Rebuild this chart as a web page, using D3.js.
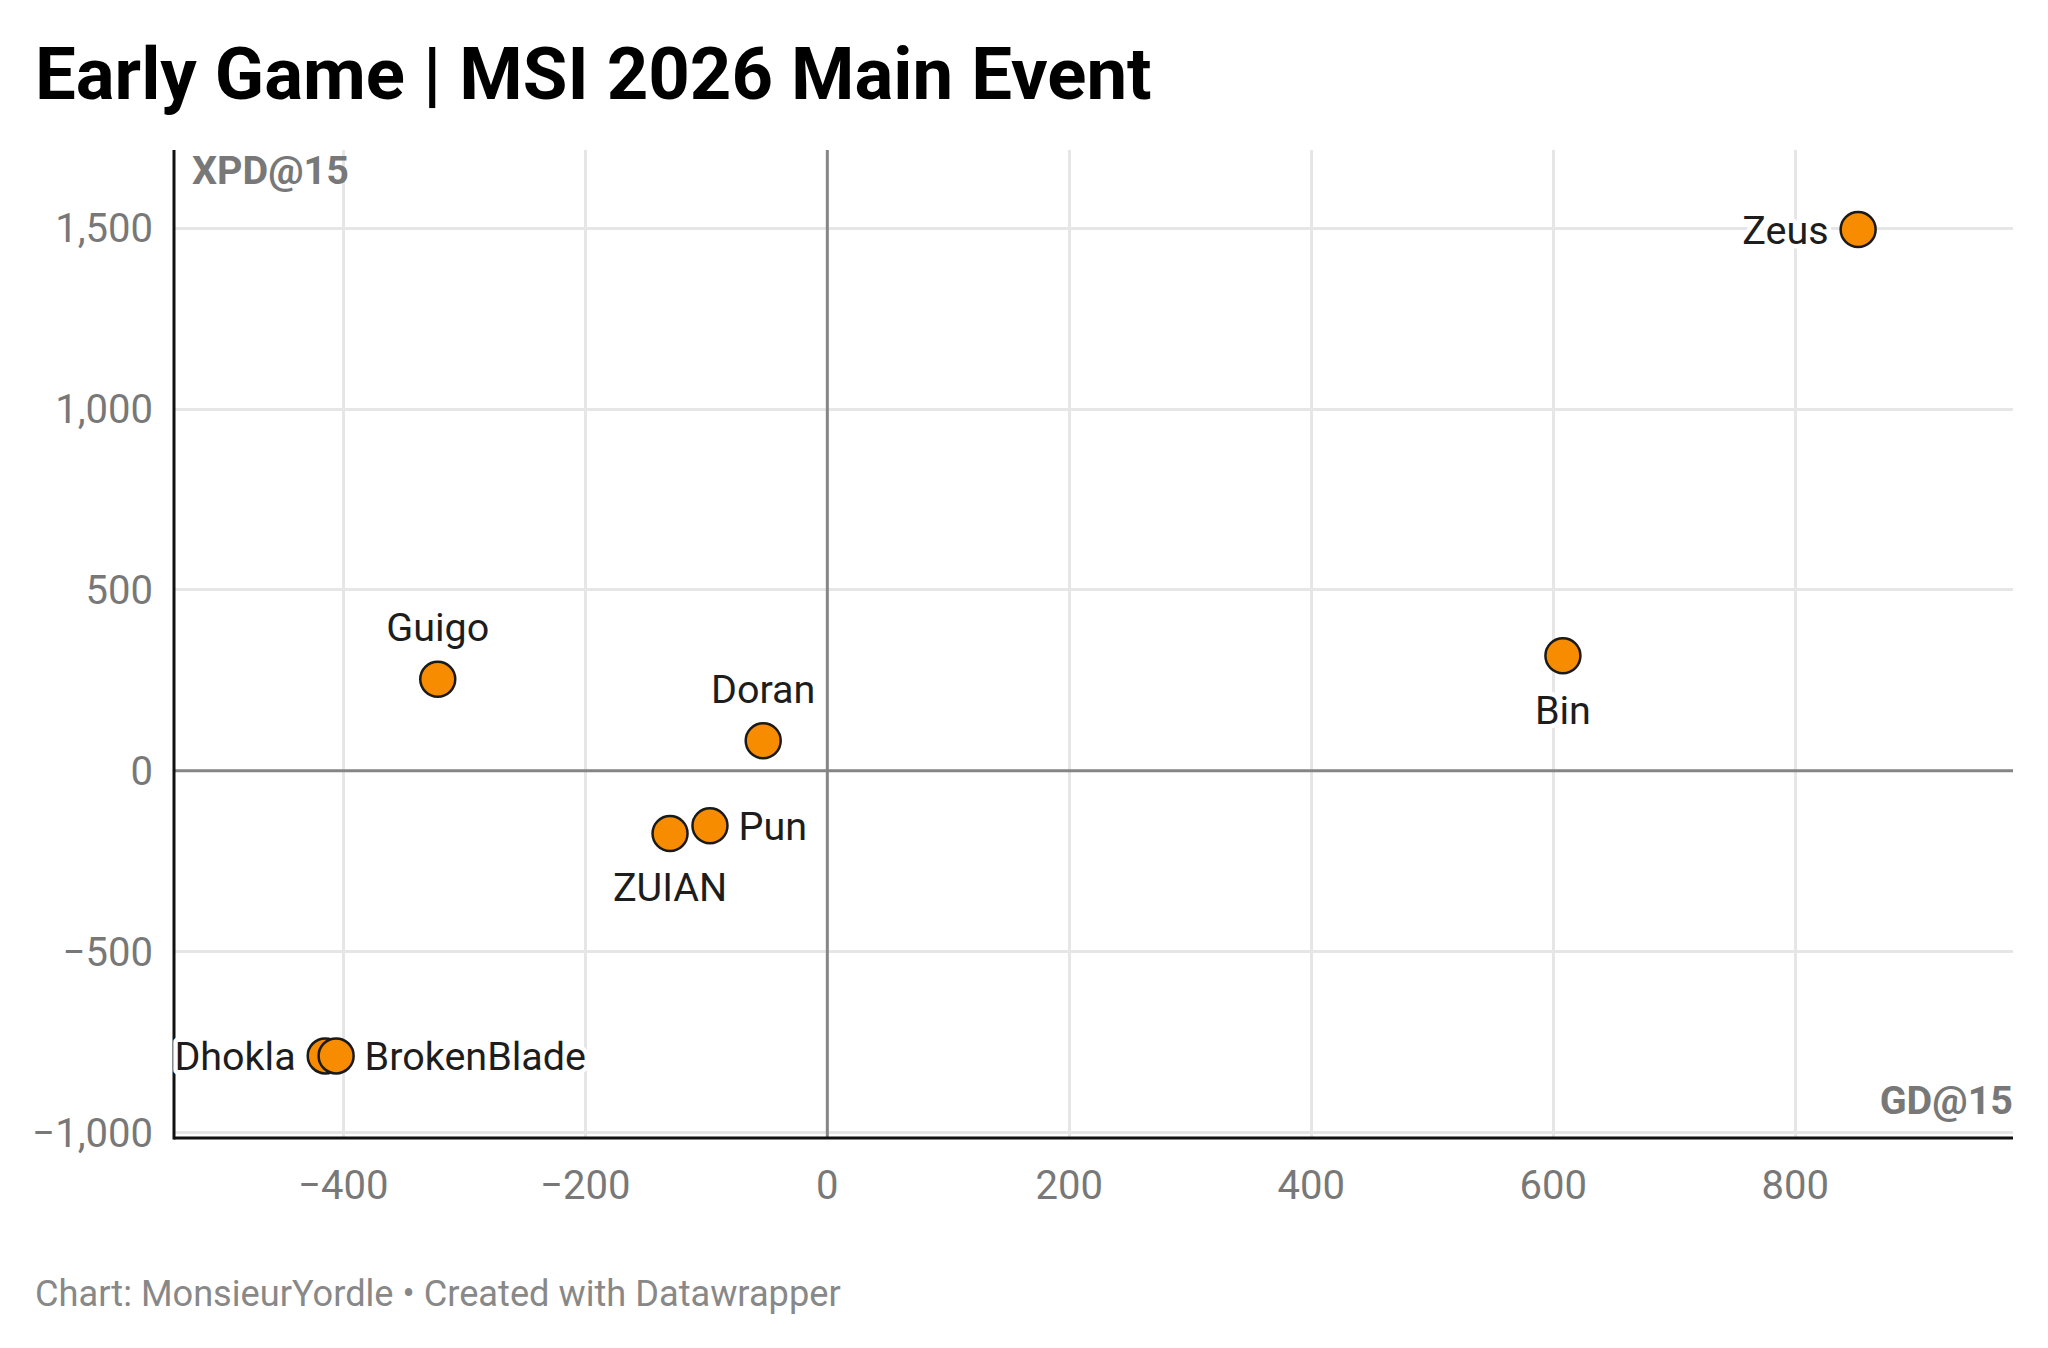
<!DOCTYPE html>
<html lang="en">
<head>
  <meta charset="UTF-8">
  <title>Early Game | MSI 2026 Main Event</title>
  <script src="https://d3js.org/d3.v7.min.js"></script>
  <style>
    body { margin: 0; padding: 0; background: #fff; }
    svg { display: block; font-family: Roboto, "Noto Sans", sans-serif; }
    .grid line { stroke: #e6e6e6; stroke-width: 3px; shape-rendering: crispEdges; }
    .tick-label { fill: #787878; font-size: 40px; }
    .axis-title { fill: #787878; font-size: 39.5px; font-weight: 700; }
    .point-label {
      fill: #1d1d1d; font-size: 39.5px;
      stroke: #fff; stroke-width: 9px; stroke-linejoin: round; paint-order: stroke;
    }
  </style>
</head>
<body>
  <div class="chart"></div>
  <script>
    // players, GD@15 and XPD@15
    const players = ["Zeus", "Bin", "Guigo", "Doran", "Pun", "ZUIAN", "Dhokla", "BrokenBlade"];
    const gd15 = [852, 608, -322, -53, -97, -130, -415, -406];
    const xpd15 = [1496, 318, 253, 83, -152, -173, -788, -788];

    const xTicks = [-400, -200, 0, 200, 400, 600, 800];
    const yTicks = [-1000, -500, 0, 500, 1000, 1500];

    // where each label sits relative to its dot
    const labelSide = {
      Zeus: "left", Bin: "bottom", Guigo: "top", Doran: "top",
      Pun: "right", ZUIAN: "bottom", Dhokla: "left", BrokenBlade: "right"
    };

    const width = 2048, height = 1348;
    const margin = {top: 150, right: 35, bottom: 210, left: 174};

    const data = players.map((p, i) => ({name: p, gd: gd15[i], xpd: xpd15[i]}));

    const svg = d3.select(".chart").append("svg")
      .attr("width", width)
      .attr("height", height);

    svg.append("rect").attr("width", width).attr("height", height).attr("fill", "#fff");

    const x = d3.scaleLinear()
      .domain([-540, 980])
      .range([margin.left, width - margin.right]);

    const y = d3.scaleLinear()
      .domain([-1015, 1716])
      .range([height - margin.bottom, margin.top]);

    const fmt = d3.format(",");

    // grid
    const grid = svg.append("g").attr("class", "grid");
    grid.selectAll(".gx").data(xTicks.filter(d => d !== 0)).join("line")
      .attr("x1", d => x(d)).attr("x2", d => x(d))
      .attr("y1", y.range()[1]).attr("y2", y.range()[0]);
    grid.selectAll(".gy").data(yTicks.filter(d => d !== 0)).join("line")
      .attr("class", "gy")
      .attr("x1", x.range()[0]).attr("x2", x.range()[1])
      .attr("y1", d => y(d)).attr("y2", d => y(d));

    // zero lines
    svg.append("line")
      .attr("x1", x(0)).attr("x2", x(0))
      .attr("y1", y.range()[1]).attr("y2", y.range()[0])
      .attr("stroke", "#858585").attr("stroke-width", 3);
    svg.append("line")
      .attr("x1", x.range()[0]).attr("x2", x.range()[1])
      .attr("y1", y(0)).attr("y2", y(0))
      .attr("stroke", "#858585").attr("stroke-width", 3);

    // axis lines
    svg.append("line")
      .attr("x1", x.range()[0]).attr("x2", x.range()[0])
      .attr("y1", y.range()[1]).attr("y2", y.range()[0] + 1.5)
      .attr("stroke", "#111").attr("stroke-width", 3);
    svg.append("line")
      .attr("x1", x.range()[0]).attr("x2", x.range()[1])
      .attr("y1", y.range()[0]).attr("y2", y.range()[0])
      .attr("stroke", "#111").attr("stroke-width", 3);

    // tick labels
    svg.append("g").selectAll("text").data(xTicks).join("text")
      .attr("class", "tick-label")
      .attr("x", d => x(d))
      .attr("y", 1199)
      .attr("text-anchor", "middle")
      .text(d => fmt(d));

    svg.append("g").selectAll("text").data(yTicks).join("text")
      .attr("class", "tick-label")
      .attr("x", 153)
      .attr("y", d => y(d) + 14)
      .attr("text-anchor", "end")
      .text(d => fmt(d));

    // axis titles
    svg.append("text").attr("class", "axis-title")
      .attr("x", 192).attr("y", 184).text("XPD@15");
    svg.append("text").attr("class", "axis-title")
      .attr("x", x.range()[1]).attr("y", 1114)
      .attr("text-anchor", "end").text("GD@15");

    // labels
    const r = 17.5;
    const labels = svg.append("g");
    data.forEach(d => {
      const side = labelSide[d.name];
      const cx = x(d.gd), cy = y(d.xpd);
      let lx = cx, ly = cy + 14, anchor = "middle";
      if (side === "left") { lx = cx - r - 12; anchor = "end"; }
      if (side === "right") { lx = cx + r + 11; anchor = "start"; }
      if (side === "top") { ly = cy - 38; }
      if (side === "bottom") { ly = cy + 68; }
      labels.append("text")
        .attr("class", "point-label")
        .attr("x", lx).attr("y", ly)
        .attr("text-anchor", anchor)
        .text(d.name);
    });

    // dots
    svg.append("g").selectAll("circle").data(data).join("circle")
      .attr("cx", d => x(d.gd))
      .attr("cy", d => y(d.xpd))
      .attr("r", r)
      .attr("fill", "#f78c00")
      .attr("stroke", "#1a1a1a")
      .attr("stroke-width", 2.5);

    // title and footer
    svg.append("text")
      .attr("x", 35).attr("y", 99)
      .attr("font-size", 72.5).attr("font-weight", 700).attr("fill", "#000")
      .text("Early Game | MSI 2026 Main Event");

    svg.append("text")
      .attr("x", 35).attr("y", 1306)
      .attr("font-size", 36.2).attr("fill", "#888")
      .text("Chart: MonsieurYordle \u2022 Created with Datawrapper");
  </script>
</body>
</html>
